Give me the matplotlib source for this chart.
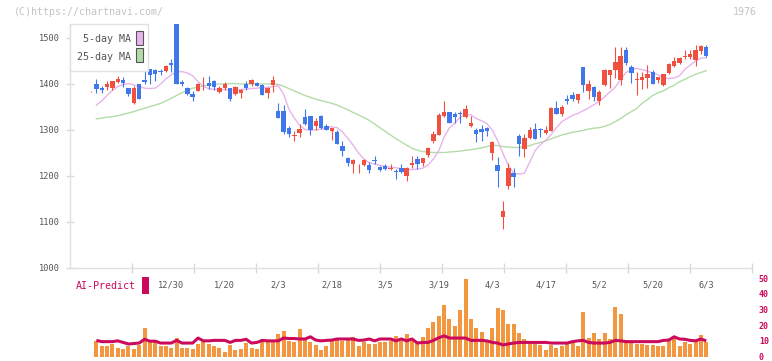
import matplotlib
matplotlib.use("Agg")
import matplotlib.pyplot as plt
from matplotlib.patches import Rectangle
import numpy as np

# ---- data ----
opens = [1382, 1400, 1391, 1394, 1391, 1404, 1409, 1391, 1359, 1401,
         1409, 1433, 1430, 1429, 1428, 1446, 1530, 1405, 1391, 1378,
         1385, 1399, 1403, 1406, 1382, 1391, 1391, 1378, 1380, 1400,
         1400, 1403, 1398, 1380, 1398, 1342, 1342, 1304, 1288, 1294,
         1328, 1330, 1309, 1331, 1309, 1298, 1296, 1265, 1240, 1226,
         1223, 1224, 1224, 1234, 1220, 1222, 1215, 1211, 1218, 1199,
         1224, 1237, 1228, 1246, 1276, 1290, 1330, 1339, 1335, 1337,
         1329, 1309, 1300, 1302, 1304, 1251, 1224, 1111, 1178, 1207,
         1287, 1259, 1283, 1302, 1302, 1293, 1298, 1348, 1335, 1367,
         1376, 1365, 1437, 1385, 1393, 1363, 1398, 1420, 1430, 1408,
         1474, 1437, 1408, 1408, 1412, 1426, 1408, 1398, 1423, 1439,
         1446, 1459, 1459, 1452, 1472, 1480]
highs = [1384, 1410, 1396, 1406, 1407, 1418, 1415, 1391, 1396, 1401,
         1430, 1433, 1432, 1432, 1442, 1454, 1530, 1408, 1393, 1385,
         1402, 1415, 1418, 1408, 1396, 1404, 1392, 1396, 1390, 1407,
         1410, 1405, 1399, 1393, 1418, 1359, 1354, 1309, 1298, 1313,
         1346, 1331, 1327, 1333, 1313, 1305, 1299, 1276, 1241, 1236,
         1225, 1236, 1230, 1243, 1222, 1226, 1226, 1215, 1226, 1219,
         1243, 1243, 1240, 1264, 1298, 1338, 1363, 1340, 1339, 1342,
         1354, 1330, 1304, 1311, 1306, 1275, 1242, 1146, 1228, 1217,
         1291, 1291, 1306, 1315, 1304, 1309, 1349, 1362, 1355, 1376,
         1383, 1379, 1437, 1409, 1396, 1386, 1433, 1431, 1480, 1480,
         1480, 1441, 1426, 1426, 1441, 1430, 1416, 1422, 1446, 1459,
         1459, 1474, 1474, 1485, 1485, 1485]
lows = [1382, 1381, 1380, 1388, 1388, 1403, 1393, 1374, 1357, 1368,
        1399, 1399, 1406, 1420, 1425, 1425, 1401, 1396, 1376, 1362,
        1384, 1388, 1390, 1386, 1381, 1388, 1362, 1377, 1369, 1388,
        1396, 1395, 1375, 1370, 1383, 1325, 1291, 1285, 1276, 1284,
        1311, 1289, 1300, 1303, 1300, 1278, 1269, 1244, 1221, 1207,
        1207, 1221, 1207, 1226, 1210, 1213, 1213, 1193, 1207, 1190,
        1217, 1215, 1222, 1242, 1271, 1289, 1329, 1316, 1316, 1316,
        1327, 1307, 1274, 1277, 1286, 1235, 1177, 1085, 1172, 1177,
        1243, 1242, 1280, 1281, 1285, 1291, 1297, 1334, 1331, 1357,
        1362, 1359, 1382, 1367, 1363, 1354, 1396, 1391, 1412, 1398,
        1441, 1402, 1376, 1389, 1391, 1401, 1402, 1396, 1422, 1437,
        1444, 1454, 1454, 1439, 1465, 1459]
closes = [1383, 1389, 1386, 1400, 1406, 1411, 1403, 1379, 1391, 1368,
          1404, 1420, 1422, 1425, 1439, 1442, 1401, 1400, 1378, 1372,
          1400, 1401, 1395, 1393, 1392, 1400, 1368, 1394, 1388, 1392,
          1409, 1396, 1376, 1392, 1409, 1327, 1296, 1291, 1290, 1302,
          1313, 1300, 1320, 1304, 1300, 1304, 1270, 1254, 1228, 1235,
          1224, 1235, 1213, 1232, 1213, 1215, 1217, 1208, 1209, 1218,
          1229, 1227, 1239, 1261, 1292, 1333, 1339, 1316, 1329, 1335,
          1346, 1315, 1292, 1296, 1298, 1274, 1211, 1124, 1217, 1198,
          1270, 1283, 1300, 1281, 1300, 1300, 1348, 1335, 1351, 1362,
          1367, 1378, 1398, 1400, 1372, 1383, 1430, 1430, 1448, 1461,
          1446, 1424, 1410, 1415, 1422, 1401, 1415, 1421, 1443, 1450,
          1457, 1461, 1465, 1474, 1483, 1461]

ma5 = [np.nan, 1354, 1363, 1375, 1386, 1394, 1399, 1401, 1398, 1394,
       1391, 1390, 1391, 1400, 1411, 1420, 1426, 1427, 1424, 1418,
       1405, 1395, 1390, 1388, 1388, 1388, 1387, 1387, 1388, 1389,
       1390, 1391, 1392, 1393, 1394, 1396, 1378, 1345, 1326, 1310,
       1301, 1300, 1300, 1302, 1305, 1307, 1305, 1296, 1282, 1267,
       1250, 1237, 1229, 1226, 1223, 1221, 1219, 1218, 1216, 1214,
       1214, 1215, 1217, 1224, 1237, 1255, 1285, 1305, 1315, 1328,
       1333, 1333, 1325, 1320, 1314, 1300, 1277, 1249, 1223, 1206,
       1204, 1206, 1230, 1255, 1268, 1278, 1290, 1305, 1318, 1325,
       1332, 1336, 1342, 1348, 1355, 1362, 1372, 1383, 1393, 1410,
       1425, 1431, 1434, 1431, 1428, 1424, 1420, 1413, 1412, 1413,
       1418, 1432, 1441, 1450, 1456, 1457]
ma25 = [np.nan, 1324, 1326, 1328, 1329, 1331, 1334, 1337, 1340, 1344,
        1347, 1351, 1354, 1358, 1363, 1369, 1375, 1381, 1386, 1391,
        1393, 1396, 1398, 1399, 1400, 1400, 1401, 1401, 1400, 1400,
        1400, 1400, 1400, 1400, 1400, 1399, 1395, 1390, 1385, 1380,
        1375, 1371, 1367, 1364, 1361, 1358, 1354, 1349, 1344, 1338,
        1333, 1327, 1321, 1313, 1305, 1297, 1289, 1281, 1274, 1267,
        1260, 1256, 1253, 1252, 1251, 1251, 1251, 1252, 1253, 1254,
        1256, 1257, 1259, 1261, 1264, 1267, 1266, 1264, 1263, 1262,
        1262, 1264, 1266, 1270, 1273, 1276, 1281, 1285, 1289, 1292,
        1295, 1297, 1299, 1302, 1304, 1305, 1308, 1312, 1318, 1325,
        1333, 1340, 1347, 1358, 1366, 1375, 1381, 1385, 1392, 1397,
        1405, 1410, 1416, 1421, 1425, 1429]

volume = [np.nan, 10.1, 6.9, 6.9, 8.0, 5.5, 4.9, 6.9, 4.9, 7.6,
          18.1, 9.5, 9.1, 6.9, 6.9, 5.7, 11.8, 5.7, 5.7, 4.9,
          8.0, 9.5, 8.0, 6.9, 5.7, 2.8, 7.6, 4.4, 4.9, 8.6,
          5.7, 4.9, 10.5, 9.1, 9.1, 14.3, 16.4, 10.1, 9.1, 17.4,
          11.8, 9.1, 7.4, 4.2, 6.9, 10.1, 10.5, 9.7, 12.0, 12.6,
          6.9, 9.5, 8.0, 8.0, 9.0, 9.5, 10.1, 13.2, 10.1, 14.3,
          10.1, 10.1, 12.6, 18.1, 22.1, 25.8, 33.2, 23.8, 19.5, 30.0,
          49.6, 23.8, 18.5, 15.8, 10.1, 18.1, 30.7, 30.0, 20.6, 20.6,
          14.9, 11.2, 8.0, 8.0, 7.4, 4.4, 7.4, 5.2, 6.6, 8.0,
          9.1, 6.9, 28.4, 11.6, 14.9, 11.2, 14.9, 11.2, 31.8, 26.9,
          10.5, 9.1, 8.0, 8.0, 7.4, 7.4, 6.6, 6.6, 10.1, 11.6,
          6.6, 9.1, 8.0, 10.1, 13.7, 9.1]
ai_predict = [np.nan, 10.3, 9.5, 9.5, 9.5, 10.0, 9.0, 8.0, 8.3, 8.6,
              11.0, 9.8, 9.8, 8.6, 8.6, 8.6, 10.3, 8.6, 8.6, 8.6,
              11.8, 10.0, 10.0, 10.3, 10.3, 10.3, 9.0, 10.3, 10.3, 11.0,
              8.6, 9.0, 10.3, 10.0, 10.0, 10.0, 11.8, 11.5, 11.5, 11.2,
              11.2, 12.6, 10.5, 10.0, 10.3, 10.5, 11.2, 11.2, 11.2, 11.2,
              10.3, 10.5, 11.2, 10.0, 11.2, 11.2, 11.2, 10.0, 11.2, 10.0,
              11.2, 8.6, 9.0, 9.0, 10.3, 12.0, 13.2, 11.8, 11.8, 11.8,
              11.8, 10.3, 10.3, 10.3, 10.0, 9.0, 8.6, 7.4, 8.0, 8.6,
              9.0, 9.0, 9.0, 9.0, 9.0, 9.0, 8.6, 8.6, 8.6, 8.6,
              9.5, 10.0, 10.3, 9.0, 8.6, 8.6, 8.6, 9.0, 10.3, 10.0,
              9.5, 9.5, 9.5, 9.5, 9.5, 9.5, 9.5, 10.3, 10.5, 12.6,
              11.2, 11.0, 10.3, 10.0, 11.2, 10.0]

date_pos = [15, 25, 35, 45, 55, 65, 75, 85, 95, 105, 115]
date_labels = ["12/30", "1/20", "2/3", "2/18", "3/5", "3/19",
               "4/3", "4/17", "5/2", "5/20", "6/3"]
price_ticks = [1000, 1100, 1200, 1300, 1400, 1500]
vol_ticks = [0, 10, 20, 30, 40, 50]

# ---- style ----
UP = "#f05040"
DOWN = "#4078ec"
MA5_C = "#e8b4ec"
MA25_C = "#b4dca8"
VOL_C = "#f29640"
AI_C = "#cc0a5c"
TXT = "#555555"
LINE = "#e0e0e0"
MONO = "DejaVu Sans Mono"

W, H = 772, 361
fig = plt.figure(figsize=(W / 100, H / 100), dpi=100)


def fx(px):
    return px / W


def fy(py):
    return 1 - py / H


x = np.arange(len(opens))
xlim = (-3.93, 123.55)

# ---------- price panel ----------
ax = fig.add_axes([fx(70), fy(268), fx(682), 244 / H])
ax.set_xlim(*xlim)
ax.set_ylim(1000, 1530.4)

ax.plot(x, ma25, color=MA25_C, lw=1.0, zorder=1)
ax.plot(x, ma5, color=MA5_C, lw=1.0, zorder=1)

o = np.array(opens, float)
c = np.array(closes, float)
colors = [UP if cc >= oo else DOWN for oo, cc in zip(o, c)]
ax.vlines(x, lows, highs, colors=colors, lw=0.8, zorder=2)
body_lo = np.minimum(o, c)
body_h = np.maximum(np.abs(c - o), 1.6)
ax.bar(x, body_h, bottom=body_lo, width=0.82, color=colors, linewidth=0, zorder=3)

for s in ("top", "right"):
    ax.spines[s].set_visible(False)
for s in ("left", "bottom"):
    ax.spines[s].set_color(LINE)
    ax.spines[s].set_linewidth(1.0)

ax.set_yticks(price_ticks)
ax.set_yticklabels([str(v) for v in price_ticks])
ax.tick_params(axis="y", direction="inout", length=6, width=1, color="#d8d8d8",
               labelsize=6.2, labelcolor=TXT, pad=4)
ax.set_xticks(date_pos)
ax.set_xticklabels(date_labels)
ax.tick_params(axis="x", which="major", length=0, labelsize=6.2, labelcolor=TXT, pad=9)
ax.set_xticks(np.linspace(xlim[0], xlim[1], 12)[1:], minor=True)
ax.tick_params(axis="x", which="minor", direction="inout", length=7, width=1, color="#d8d8d8")
for lab in ax.get_xticklabels() + ax.get_yticklabels():
    lab.set_family(MONO)

# ---------- volume / AI panel ----------
av = fig.add_axes([fx(70), fy(356.5), fx(682), 78.2 / H])
av.patch.set_visible(False)
av.set_xlim(*xlim)
av.set_ylim(0, 50)
av.bar(x, volume, width=0.75, color=VOL_C, linewidth=0, zorder=1)
av.plot(x, ai_predict, color=AI_C, lw=2.2, zorder=2, solid_capstyle="butt")
for s in av.spines.values():
    s.set_visible(False)
av.set_xticks([])
av.yaxis.tick_right()
av.set_yticks(vol_ticks)
av.set_yticklabels([str(v) for v in vol_ticks])
av.tick_params(axis="y", length=0, labelsize=6, labelcolor=AI_C, pad=5)
for lab in av.get_yticklabels():
    lab.set_family(MONO)
    lab.set_fontweight("bold")

# ---------- legend box ----------
fig.add_artist(Rectangle((fx(70), fy(71)), fx(78), 47 / H, transform=fig.transFigure,
                         facecolor="white", edgecolor=LINE, lw=1.0, zorder=5))
fig.text(fx(131), fy(39), "5-day MA", ha="right", va="center", fontsize=7.2,
         family=MONO, color=TXT, zorder=6)
fig.text(fx(131), fy(57), "25-day MA", ha="right", va="center", fontsize=7.2,
         family=MONO, color=TXT, zorder=6)
fig.add_artist(Rectangle((fx(136), fy(45)), fx(7), 14 / H, transform=fig.transFigure,
                         facecolor=MA5_C, edgecolor="#555555", lw=0.8, zorder=6))
fig.add_artist(Rectangle((fx(136), fy(62)), fx(7), 14 / H, transform=fig.transFigure,
                         facecolor=MA25_C, edgecolor="#555555", lw=0.8, zorder=6))

# ---------- AI-Predict label ----------
fig.text(fx(76), fy(286), "AI-Predict", ha="left", va="center", fontsize=7.2,
         family=MONO, color=AI_C)
fig.add_artist(Rectangle((fx(142), fy(294)), fx(7), 17 / H, transform=fig.transFigure,
                         facecolor=AI_C, edgecolor="none"))

# ---------- header texts ----------
fig.text(fx(14), fy(12), "(C)https://chartnavi.com/", ha="left", va="center",
         fontsize=7.2, family=MONO, color="#c4c4c4")
fig.text(fx(757), fy(12), "1976", ha="right", va="center", fontsize=7.2,
         family=MONO, color="#c4c4c4")

fig.savefig("out.png", dpi=100)
